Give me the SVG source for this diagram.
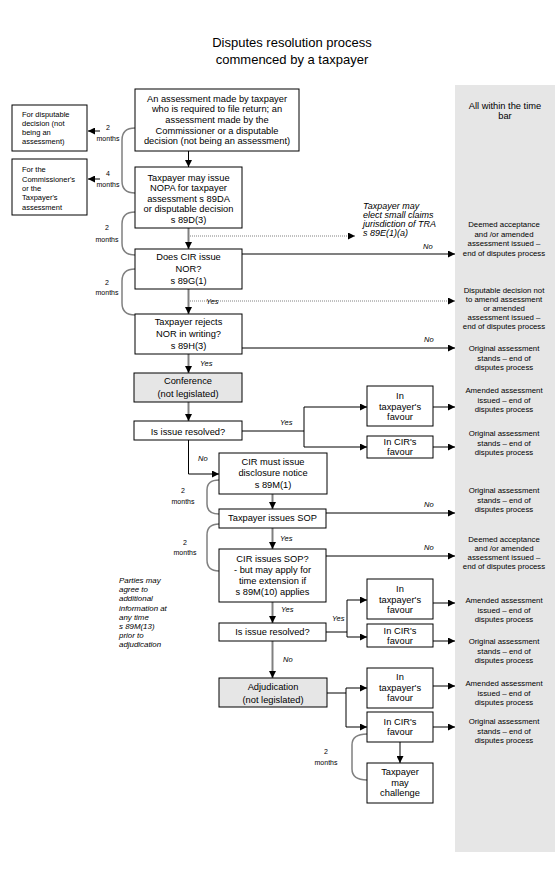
<svg xmlns="http://www.w3.org/2000/svg" width="560" height="877" viewBox="0 0 560 877">
<style>
text{font-family:"Liberation Sans",Arial,sans-serif;fill:#000}
.t{font-size:9.3px;text-anchor:middle}
.ti{font-size:13px;text-anchor:middle}
.sm{font-size:7.5px}
.pa{font-size:7.9px;font-style:italic}
.pn{font-size:7.8px;text-anchor:middle}
.mo{font-size:7px;text-anchor:middle}
.it{font-style:italic;font-size:9px}
.yn{font-size:7.5px;font-style:italic}
.box{fill:#fff;stroke:#000;stroke-width:1}
.gbox{fill:#e6e6e6;stroke:#000;stroke-width:1}
.k{fill:none;stroke:#000;stroke-width:1}
.g{fill:none;stroke:#808080;stroke-width:2}
.d{fill:none;stroke:#808080;stroke-width:1;stroke-dasharray:1,1}
.br{fill:none;stroke:#808080;stroke-width:1.5}
</style>
<defs>
<marker id="ah" viewBox="0 0 10 10" refX="10" refY="5" markerWidth="7" markerHeight="7" markerUnits="userSpaceOnUse" orient="auto"><path d="M0,0 L10,5 L0,10 z" fill="#000"/></marker>
</defs>
<rect width="560" height="877" fill="#fff"/>
<g id="timebar">
<rect x="455" y="85" width="100" height="767" fill="#e6e6e6"/>
<text class="t" x="505" y="108.5">All within the time</text>
<text class="t" x="505" y="119">bar</text>
</g>
<g id="title">
<text class="ti" x="292" y="47">Disputes resolution process</text>
<text class="ti" x="292" y="64">commenced by a taxpayer</text>
</g>
<g id="connectors">
<line class="k" x1="188.5" y1="151" x2="188.5" y2="167" marker-end="url(#ah)"/>
<line class="g" x1="188.5" y1="228" x2="188.5" y2="249" marker-end="url(#ah)"/>
<line class="g" x1="188.5" y1="289" x2="188.5" y2="314" marker-end="url(#ah)"/>
<line class="g" x1="188.5" y1="354" x2="188.5" y2="373" marker-end="url(#ah)"/>
<line class="g" x1="188.5" y1="402" x2="188.5" y2="421" marker-end="url(#ah)"/>
<line class="d" x1="190" y1="236" x2="355" y2="236" marker-end="url(#ah)"/>
<line class="d" x1="190" y1="301" x2="455" y2="301" marker-end="url(#ah)"/>
<line class="g" x1="242" y1="254" x2="455" y2="254" marker-end="url(#ah)"/>
<line class="k" x1="242" y1="348" x2="455" y2="348" marker-end="url(#ah)"/>
<line class="k" x1="100" y1="131" x2="88" y2="131" marker-end="url(#ah)"/>
<line class="k" x1="100" y1="179" x2="88" y2="179" marker-end="url(#ah)"/>
<polyline class="k" points="242,431 304,431"/>
<polyline class="k" points="304,407 304,447"/>
<line class="k" x1="304" y1="407" x2="367" y2="407" marker-end="url(#ah)"/>
<line class="k" x1="304" y1="447" x2="367" y2="447" marker-end="url(#ah)"/>
<line class="g" x1="433" y1="407" x2="455" y2="407" marker-end="url(#ah)"/>
<line class="k" x1="433" y1="447" x2="455" y2="447" marker-end="url(#ah)"/>
<polyline class="k" points="188.5,440 188.5,474 219,474" marker-end="url(#ah)"/>
<line class="g" x1="272.5" y1="494" x2="272.5" y2="509" marker-end="url(#ah)"/>
<line class="k" x1="326" y1="513" x2="455" y2="513" marker-end="url(#ah)"/>
<line class="g" x1="272.5" y1="528" x2="272.5" y2="549" marker-end="url(#ah)"/>
<line class="k" x1="326" y1="556" x2="455" y2="556" marker-end="url(#ah)"/>
<line class="g" x1="272.5" y1="602" x2="272.5" y2="623" marker-end="url(#ah)"/>
<polyline class="k" points="326,632 347,632"/>
<polyline class="k" points="347,600 347,637"/>
<line class="k" x1="347" y1="600" x2="367" y2="600" marker-end="url(#ah)"/>
<line class="k" x1="347" y1="637" x2="367" y2="637" marker-end="url(#ah)"/>
<line class="g" x1="433" y1="603" x2="455" y2="603" marker-end="url(#ah)"/>
<line class="k" x1="433" y1="641" x2="455" y2="641" marker-end="url(#ah)"/>
<line class="g" x1="272.5" y1="641" x2="272.5" y2="678" marker-end="url(#ah)"/>
<polyline class="k" points="327,693 346,693"/>
<polyline class="k" points="346,688 346,727"/>
<line class="k" x1="346" y1="688" x2="367" y2="688" marker-end="url(#ah)"/>
<line class="k" x1="346" y1="727" x2="367" y2="727" marker-end="url(#ah)"/>
<line class="k" x1="433" y1="686" x2="455" y2="686" marker-end="url(#ah)"/>
<line class="k" x1="433" y1="727" x2="455" y2="727" marker-end="url(#ah)"/>
<line class="g" x1="400" y1="742" x2="400" y2="763" marker-end="url(#ah)"/>
<path class="br" d="M135,128 Q122,128 122,140 L122,181 Q122,193 135,193"/>
<path class="br" d="M135,212 Q122,212 122,224 L122,243 Q122,255 135,255"/>
<path class="br" d="M135,269 Q122,269 122,281 L122,303 Q122,315 135,315"/>
<path class="br" d="M219,480 Q207,480 207,490 L207,504 Q207,514 219,514"/>
<path class="br" d="M219,524 Q207,524 207,535 L207,560 Q207,571 219,571"/>
<path class="br" d="M367,734 Q352,734 352,745 L352,769 Q352,780 367,780"/>
<text class="mo" x="108" y="130">2</text>
<text class="mo" x="108" y="141">months</text>
<text class="mo" x="108" y="176">4</text>
<text class="mo" x="108" y="187">months</text>
<text class="mo" x="107" y="229.5">2</text>
<text class="mo" x="107" y="241.5">months</text>
<text class="mo" x="107" y="284.5">2</text>
<text class="mo" x="107" y="295">months</text>
<text class="mo" x="183" y="492.5">2</text>
<text class="mo" x="183" y="503.5">months</text>
<text class="mo" x="185" y="544.5">2</text>
<text class="mo" x="185" y="555">months</text>
<text class="mo" x="326" y="753.5">2</text>
<text class="mo" x="326" y="764.5">months</text>
<text class="yn" x="206" y="304">Yes</text>
<text class="yn" x="200" y="366">Yes</text>
<text class="yn" x="280" y="425">Yes</text>
<text class="yn" x="198" y="461">No</text>
<text class="yn" x="280" y="541">Yes</text>
<text class="yn" x="281" y="612">Yes</text>
<text class="yn" x="332" y="621">Yes</text>
<text class="yn" x="283" y="662">No</text>
<text class="yn" x="423" y="249">No</text>
<text class="yn" x="424" y="342">No</text>
<text class="yn" x="424" y="507">No</text>
<text class="yn" x="424" y="550">No</text>
</g>
<g id="n-assessment">
<rect class="box" x="135" y="89" width="164" height="62"/>
<text class="t" x="217" y="101.5">An assessment made by taxpayer</text>
<text class="t" x="217" y="112.2">who is required to file return; an</text>
<text class="t" x="217" y="122.9">assessment made by the</text>
<text class="t" x="217" y="133.6">Commissioner or a disputable</text>
<text class="t" x="217" y="144.3">decision (not being an assessment)</text>
</g>
<g id="n-for-disputable">
<rect class="box" x="12" y="105" width="75" height="46"/>
<text class="sm" x="22" y="117">For disputable</text>
<text class="sm" x="22" y="126">decision (not</text>
<text class="sm" x="22" y="135">being an</text>
<text class="sm" x="22" y="144">assessment)</text>
</g>
<g id="n-for-commissioner">
<rect class="box" x="12" y="159" width="75" height="56"/>
<text class="sm" x="22" y="172">For the</text>
<text class="sm" x="22" y="181.5">Commissioner's</text>
<text class="sm" x="22" y="190.5">or the</text>
<text class="sm" x="22" y="200">Taxpayer's</text>
<text class="sm" x="22" y="209.5">assessment</text>
</g>
<g id="n-nopa">
<rect class="box" x="135" y="167" width="107" height="61"/>
<text class="t" x="188.5" y="180.5">Taxpayer may issue</text>
<text class="t" x="188.5" y="191">NOPA for taxpayer</text>
<text class="t" x="188.5" y="201.5">assessment s 89DA</text>
<text class="t" x="188.5" y="212">or disputable decision</text>
<text class="t" x="188.5" y="222.5">s 89D(3)</text>
</g>
<g id="n-small-claims">
<text class="it" x="363" y="208.5">Taxpayer may</text>
<text class="it" x="363" y="217.5">elect small claims</text>
<text class="it" x="363" y="226.5">jurisdiction of TRA</text>
<text class="it" x="363" y="235.5">s 89E(1)(a)</text>
</g>
<g id="n-nor">
<rect class="box" x="135" y="249" width="107" height="40"/>
<text class="t" x="188.5" y="260">Does CIR issue</text>
<text class="t" x="188.5" y="271.8">NOR?</text>
<text class="t" x="188.5" y="283.5">s 89G(1)</text>
</g>
<g id="n-rejects">
<rect class="box" x="135" y="314" width="107" height="40"/>
<text class="t" x="188.5" y="325">Taxpayer rejects</text>
<text class="t" x="188.5" y="336.8">NOR in writing?</text>
<text class="t" x="188.5" y="348.5">s 89H(3)</text>
</g>
<g id="n-conference">
<rect class="gbox" x="134" y="373" width="108" height="29"/>
<text class="t" x="188" y="384">Conference</text>
<text class="t" x="188" y="397">(not legislated)</text>
</g>
<g id="n-resolved1">
<rect class="box" x="134" y="421" width="108" height="19"/>
<text class="t" x="188" y="434.5">Is issue resolved?</text>
</g>
<g id="n-tp-favour1">
<rect class="box" x="367" y="386" width="66" height="40"/>
<text class="t" x="400" y="398.5">In</text>
<text class="t" x="400" y="409.5">taxpayer's</text>
<text class="t" x="400" y="420">favour</text>
</g>
<g id="n-cir-favour1">
<rect class="box" x="367" y="436" width="66" height="22"/>
<text class="t" x="400" y="445">In CIR's</text>
<text class="t" x="400" y="455">favour</text>
</g>
<g id="n-disclosure">
<rect class="box" x="219" y="453" width="108" height="41"/>
<text class="t" x="273" y="465">CIR must issue</text>
<text class="t" x="273" y="476">disclosure notice</text>
<text class="t" x="273" y="488">s 89M(1)</text>
</g>
<g id="n-tp-sop">
<rect class="box" x="219" y="509" width="107" height="19"/>
<text class="t" x="272.5" y="521">Taxpayer issues SOP</text>
</g>
<g id="n-cir-sop">
<rect class="box" x="219" y="549" width="107" height="53"/>
<text class="t" x="272.5" y="561.7">CIR issues SOP?</text>
<text class="t" x="272.5" y="572.5">- but may apply for</text>
<text class="t" x="272.5" y="583.5">time extension if</text>
<text class="t" x="272.5" y="594.5">s 89M(10) applies</text>
</g>
<g id="n-parties">
<text class="pa" x="119" y="583">Parties may</text>
<text class="pa" x="119" y="592.2">agree to</text>
<text class="pa" x="119" y="601.4">additional</text>
<text class="pa" x="119" y="610.6">information at</text>
<text class="pa" x="119" y="619.8">any time</text>
<text class="pa" x="119" y="629">s 89M(13)</text>
<text class="pa" x="119" y="638.2">prior to</text>
<text class="pa" x="119" y="647.4">adjudication</text>
</g>
<g id="n-resolved2">
<rect class="box" x="219" y="623" width="107" height="18"/>
<text class="t" x="272.5" y="634.5">Is issue resolved?</text>
</g>
<g id="n-tp-favour2">
<rect class="box" x="367" y="579" width="66" height="40"/>
<text class="t" x="400" y="591.5">In</text>
<text class="t" x="400" y="602.5">taxpayer's</text>
<text class="t" x="400" y="613">favour</text>
</g>
<g id="n-cir-favour2">
<rect class="box" x="367" y="624" width="66" height="23"/>
<text class="t" x="400" y="633.5">In CIR's</text>
<text class="t" x="400" y="644">favour</text>
</g>
<g id="n-adjudication">
<rect class="gbox" x="219" y="678" width="108" height="29"/>
<text class="t" x="273" y="690">Adjudication</text>
<text class="t" x="273" y="702.5">(not legislated)</text>
</g>
<g id="n-tp-favour3">
<rect class="box" x="367" y="668" width="66" height="40"/>
<text class="t" x="400" y="679.5">In</text>
<text class="t" x="400" y="690.5">taxpayer's</text>
<text class="t" x="400" y="701">favour</text>
</g>
<g id="n-cir-favour3">
<rect class="box" x="367" y="712" width="66" height="30"/>
<text class="t" x="400" y="725">In CIR's</text>
<text class="t" x="400" y="735">favour</text>
</g>
<g id="n-challenge">
<rect class="box" x="367" y="763" width="66" height="40"/>
<text class="t" x="400" y="775">Taxpayer</text>
<text class="t" x="400" y="785.5">may</text>
<text class="t" x="400" y="796">challenge</text>
</g>
<g id="outcomes">
<text class="pn" x="504" y="227">Deemed acceptance</text>
<text class="pn" x="504" y="236.5">and /or amended</text>
<text class="pn" x="504" y="246">assessment issued –</text>
<text class="pn" x="504" y="255.5">end of disputes process</text>
<text class="pn" x="504" y="293">Disputable decision not</text>
<text class="pn" x="504" y="302">to amend assessment</text>
<text class="pn" x="504" y="311">or amended</text>
<text class="pn" x="504" y="320">assessment issued –</text>
<text class="pn" x="504" y="329">end of disputes process</text>
<text class="pn" x="504" y="351">Original assessment</text>
<text class="pn" x="504" y="360.5">stands – end of</text>
<text class="pn" x="504" y="370">disputes process</text>
<text class="pn" x="504" y="393">Amended assessment</text>
<text class="pn" x="504" y="402.5">issued – end of</text>
<text class="pn" x="504" y="412">disputes process</text>
<text class="pn" x="504" y="436">Original assessment</text>
<text class="pn" x="504" y="445.5">stands – end of</text>
<text class="pn" x="504" y="455">disputes process</text>
<text class="pn" x="504" y="493">Original assessment</text>
<text class="pn" x="504" y="502.5">stands – end of</text>
<text class="pn" x="504" y="512">disputes process</text>
<text class="pn" x="504" y="542">Deemed acceptance</text>
<text class="pn" x="504" y="551">and /or amended</text>
<text class="pn" x="504" y="560">assessment issued –</text>
<text class="pn" x="504" y="569">end of disputes process</text>
<text class="pn" x="504" y="603">Amended assessment</text>
<text class="pn" x="504" y="612.5">issued – end of</text>
<text class="pn" x="504" y="622">disputes process</text>
<text class="pn" x="504" y="644">Original assessment</text>
<text class="pn" x="504" y="653.5">stands – end of</text>
<text class="pn" x="504" y="663">disputes process</text>
<text class="pn" x="504" y="686">Amended assessment</text>
<text class="pn" x="504" y="695.5">issued – end of</text>
<text class="pn" x="504" y="705">disputes process</text>
<text class="pn" x="504" y="724">Original assessment</text>
<text class="pn" x="504" y="733.5">stands – end of</text>
<text class="pn" x="504" y="743">disputes process</text>
</g>
</svg>
